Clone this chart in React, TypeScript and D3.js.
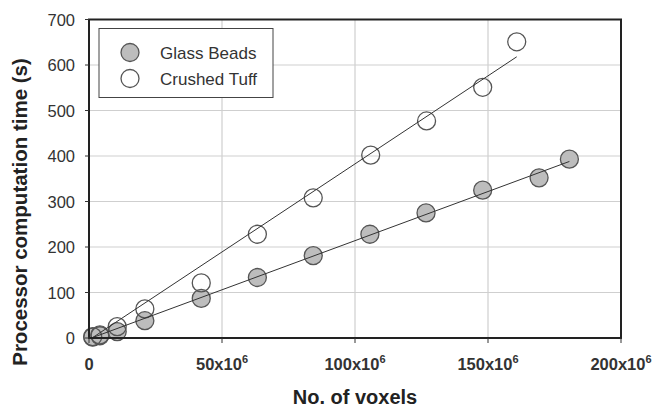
import React from "react";
import * as d3 from "d3";

// Voxel counts (millions) and computation times (s)
const glassVoxels = [1.4, 4.1, 10.6, 21, 42.2, 63.3, 84.3, 105.6, 126.7, 148, 169.2, 180.6];
const glassTimes = [2, 5, 14, 38, 87, 133, 181, 228, 275, 325, 352, 393];
const tuffVoxels = [1.4, 4.1, 10.6, 21, 42.2, 63.3, 84.3, 105.9, 126.9, 148, 160.8];
const tuffTimes = [3, 7, 25, 64, 121, 228, 308, 402, 477, 551, 651];

// Linear trend lines (start / end points)
const glassFitX = [1.4, 180.6];
const glassFitY = [1, 388];
const tuffFitX = [1.4, 160.8];
const tuffFitY = [1, 618];

const xTicks = [0, 50, 100, 150, 200];
const yTicks = [0, 100, 200, 300, 400, 500, 600, 700];
const seriesNames = ["Glass Beads", "Crushed Tuff"];

const W = 655;
const H = 409;
const m = { left: 89, right: 621, top: 19.5, bottom: 338 };

export default function App() {
  const x = d3.scaleLinear().domain([0, 200]).range([m.left, m.right]);
  const y = d3.scaleLinear().domain([0, 700]).range([m.bottom, m.top]);
  const line = d3.line<[number, number]>().x((d) => x(d[0])).y((d) => y(d[1]));

  const glassPts = glassVoxels.map((v, i) => [v, glassTimes[i]] as [number, number]);
  const tuffPts = tuffVoxels.map((v, i) => [v, tuffTimes[i]] as [number, number]);
  const glassFit = glassFitX.map((v, i) => [v, glassFitY[i]] as [number, number]);
  const tuffFit = tuffFitX.map((v, i) => [v, tuffFitY[i]] as [number, number]);

  const font = "'Liberation Sans', Arial, sans-serif";
  const r = 9;
  const markStroke = "#555";
  const grayFill = "#bdbdbd";

  return (
    <svg
      width={W}
      height={H}
      style={{ position: "absolute", left: 0, top: 0, background: "#fff" }}
      fontFamily={font}
    >
      {/* grid */}
      {xTicks.slice(1, -1).map((t) => (
        <line key={"gx" + t} x1={x(t)} x2={x(t)} y1={m.top} y2={m.bottom} stroke="#cfcfcf" strokeWidth={1.2} />
      ))}
      {yTicks.slice(1, -1).map((t) => (
        <line key={"gy" + t} x1={m.left} x2={m.right} y1={y(t)} y2={y(t)} stroke="#cfcfcf" strokeWidth={1.2} />
      ))}

      {/* markers */}
      {glassPts.map((p, i) => (
        <circle key={"g" + i} cx={x(p[0])} cy={y(p[1])} r={r} fill={grayFill} stroke={markStroke} strokeWidth={1.3} />
      ))}
      {tuffPts.map((p, i) => (
        <circle key={"t" + i} cx={x(p[0])} cy={y(p[1])} r={r} fill="none" stroke={markStroke} strokeWidth={1.3} />
      ))}

      {/* trend lines, drawn over the markers */}
      <path d={line(tuffFit) || ""} stroke="#333" strokeWidth={1} fill="none" />
      <path d={line(glassFit) || ""} stroke="#333" strokeWidth={1} fill="none" />

      {/* frame */}
      <rect x={m.left} y={m.top} width={m.right - m.left} height={m.bottom - m.top} fill="none" stroke="#222" strokeWidth={2} />

      {/* x ticks */}
      {xTicks.map((t) => (
        <g key={"xt" + t}>
          <line x1={x(t)} x2={x(t)} y1={m.bottom} y2={m.bottom + 5} stroke="#333" strokeWidth={1} />
          <text x={x(t)} y={370} textAnchor="middle" fontSize={16.5} fontWeight="bold" fill="#333">
            {t === 0 ? (
              "0"
            ) : (
              <>
                {t}x10
                <tspan dy={-7} fontSize={11}>6</tspan>
              </>
            )}
          </text>
        </g>
      ))}

      {/* y ticks */}
      {yTicks.map((t) => (
        <g key={"yt" + t}>
          <line x1={m.left - 4} x2={m.left} y1={y(t)} y2={y(t)} stroke="#333" strokeWidth={1} />
          <text x={75} y={y(t) + 6} textAnchor="end" fontSize={16.5} fill="#333">
            {t}
          </text>
        </g>
      ))}

      {/* axis titles */}
      <text x={355} y={404} textAnchor="middle" fontSize={20} fontWeight="bold" fill="#222">
        No. of voxels
      </text>
      <text
        transform={`translate(27, 212) rotate(-90)`}
        textAnchor="middle"
        fontSize={20.5}
        fontWeight="bold"
        fill="#222"
      >
        Processor computation time (s)
      </text>

      {/* legend */}
      <rect x={99} y={28.5} width={174} height={69} fill="#fff" stroke="#444" strokeWidth={1} />
      <circle cx={130} cy={52.5} r={r} fill={grayFill} stroke={markStroke} strokeWidth={1.3} />
      <circle cx={130} cy={78.5} r={r} fill="#fff" stroke={markStroke} strokeWidth={1.3} />
      <text x={160} y={58.5} fontSize={17} fill="#333">{seriesNames[0]}</text>
      <text x={160} y={84.5} fontSize={17} fill="#333">{seriesNames[1]}</text>
    </svg>
  );
}
